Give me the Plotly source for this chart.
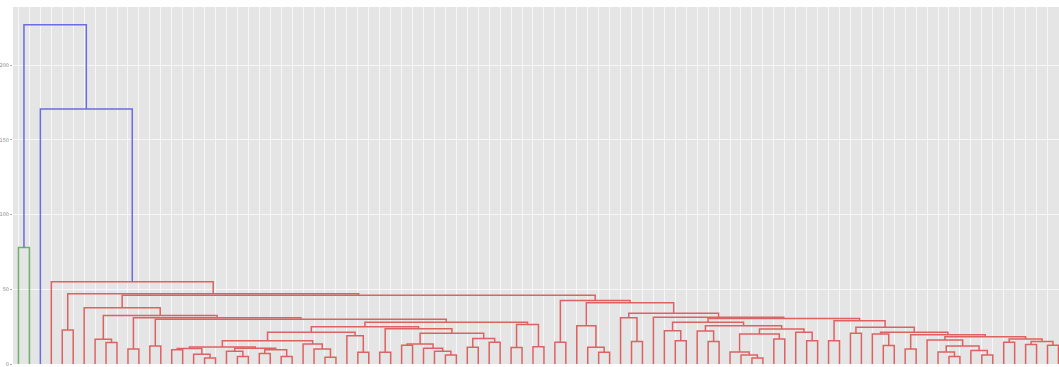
import plotly.graph_objects as go

# Dendrogram of 96 observations, stored as a linkage table:
# merge k joins node_left[k] and node_right[k] at merge_height[k];
# ids 0..95 are the leaves (in display order), id 96+k is merge k.
n_leaves = 96
leaf_labels = [str(i) for i in range(n_leaves)]

node_left = [
    0, 4, 8, 7, 10, 12, 14, 17, 16, 102,
    20, 19, 22, 24, 108, 107, 105, 28, 27, 26,
    112, 31, 30, 116, 33, 35, 39, 38, 37, 121,
    41, 43, 126, 125, 120, 119, 45, 47, 132, 131,
    101, 100, 99, 6, 49, 53, 52, 51, 56, 55,
    60, 59, 63, 62, 67, 66, 65, 69, 152, 72,
    71, 154, 149, 147, 74, 76, 79, 78, 81, 85,
    84, 88, 87, 166, 83, 90, 92, 94, 172, 171,
    170, 164, 163, 161, 160, 159, 58, 145, 143, 140,
    139, 97, 3, 2, 96,
]
node_right = [
    1, 5, 9, 98, 11, 13, 15, 18, 103, 104,
    21, 106, 23, 25, 109, 110, 111, 29, 113, 114,
    115, 32, 117, 118, 34, 36, 40, 122, 123, 124,
    42, 44, 127, 128, 129, 130, 46, 48, 133, 134,
    135, 136, 137, 138, 50, 54, 141, 142, 57, 144,
    61, 146, 64, 148, 68, 150, 151, 70, 153, 73,
    155, 156, 157, 158, 75, 77, 80, 162, 82, 86,
    165, 89, 167, 168, 169, 91, 93, 95, 173, 174,
    175, 176, 177, 178, 179, 180, 181, 182, 183, 184,
    185, 186, 187, 188, 189,
]
merge_height = [
    78.0, 22.7, 14.3, 16.5, 10.0, 12.0, 9.5, 4.0, 6.5, 10.3,
    5.0, 8.5, 7.0, 5.0, 9.5, 10.5, 11.3, 4.5, 10.0, 13.4,
    15.6, 7.8, 18.9, 21.2, 7.8, 12.5, 6.0, 8.5, 10.5, 13.4,
    11.2, 14.5, 17.0, 20.5, 23.5, 25.0, 11.0, 11.5, 26.5, 28.0,
    30.0, 31.0, 32.5, 37.7, 14.5, 7.8, 11.2, 25.6, 15.0, 31.0,
    15.6, 22.3, 15.0, 22.0, 4.0, 6.0, 8.0, 16.7, 20.1, 15.6,
    21.2, 23.4, 25.6, 27.9, 15.6, 20.5, 12.3, 20.0, 10.0, 5.0,
    8.0, 6.0, 9.0, 12.0, 16.0, 14.5, 13.0, 12.5, 15.0, 16.7,
    18.3, 19.5, 21.2, 24.5, 29.0, 30.5, 31.2, 33.9, 41.0, 42.5,
    46.0, 47.0, 55.0, 170.5, 227.0,
]

cluster_colors = ["rgb(108,178,108)", "rgb(221,98,98)"]
above_color = "rgb(108,108,226)"
y_ticks = [0, 50, 100, 150, 200]

# leaf positions follow the usual 5, 15, 25, ... spacing
pos = {i: 5 + 10 * i for i in range(n_leaves)}
hgt = {i: 0.0 for i in range(n_leaves)}
children = {}
for k, (a, b, h) in enumerate(zip(node_left, node_right, merge_height)):
    nid = n_leaves + k
    pos[nid] = (pos[a] + pos[b]) / 2
    hgt[nid] = h
    children[nid] = (a, b)

# colour flat clusters cut at 70% of the tallest merge
threshold = 0.7 * max(merge_height)
merge_color = {nid: above_color for nid in children if hgt[nid] >= threshold}


def paint(nid, color):
    if nid < n_leaves:
        return
    merge_color[nid] = color
    for c in children[nid]:
        paint(c, color)


roots = sorted(
    (c for p, ch in children.items() if hgt[p] >= threshold
     for c in ch if c >= n_leaves and hgt[c] < threshold),
    key=lambda r: pos[r],
)
for i, r in enumerate(roots):
    paint(r, cluster_colors[i % len(cluster_colors)])

# one U-shaped link per merge, grouped into a trace per colour
segs = {}
for nid, (a, b) in children.items():
    xs, ys = segs.setdefault(merge_color[nid], ([], []))
    xs += [pos[a], pos[a], pos[b], pos[b], None]
    ys += [hgt[a], hgt[nid], hgt[nid], hgt[b], None]

fig = go.Figure()
for col, (xs, ys) in segs.items():
    fig.add_trace(go.Scatter(
        x=xs, y=ys, mode="lines",
        line=dict(color=col, width=1.5),
        hoverinfo="skip", showlegend=False,
    ))

fig.update_layout(
    width=1059, height=367,
    margin=dict(l=13, r=0, t=7, b=3),
    paper_bgcolor="white",
    plot_bgcolor="#E5E5E5",
    font=dict(family="DejaVu Sans", size=5, color="#888888"),
)
fig.update_xaxes(
    range=[0, 955.5],
    tickvals=[pos[i] for i in range(n_leaves)],
    ticktext=["" for _ in leaf_labels],
    showgrid=True, gridcolor="rgba(255,255,255,0.7)", gridwidth=1,
    zeroline=False, showline=False, ticks="",
)
fig.update_yaxes(
    range=[0, 238.8],
    tickvals=y_ticks,
    ticktext=[str(v) for v in y_ticks],
    showgrid=True, gridcolor="rgba(255,255,255,0.7)", gridwidth=1,
    zeroline=False, showline=False,
    ticks="outside", ticklen=2, tickcolor="#AAAAAA",
    tickfont=dict(size=5, color="#888888"),
)

fig.write_html("out.html")
